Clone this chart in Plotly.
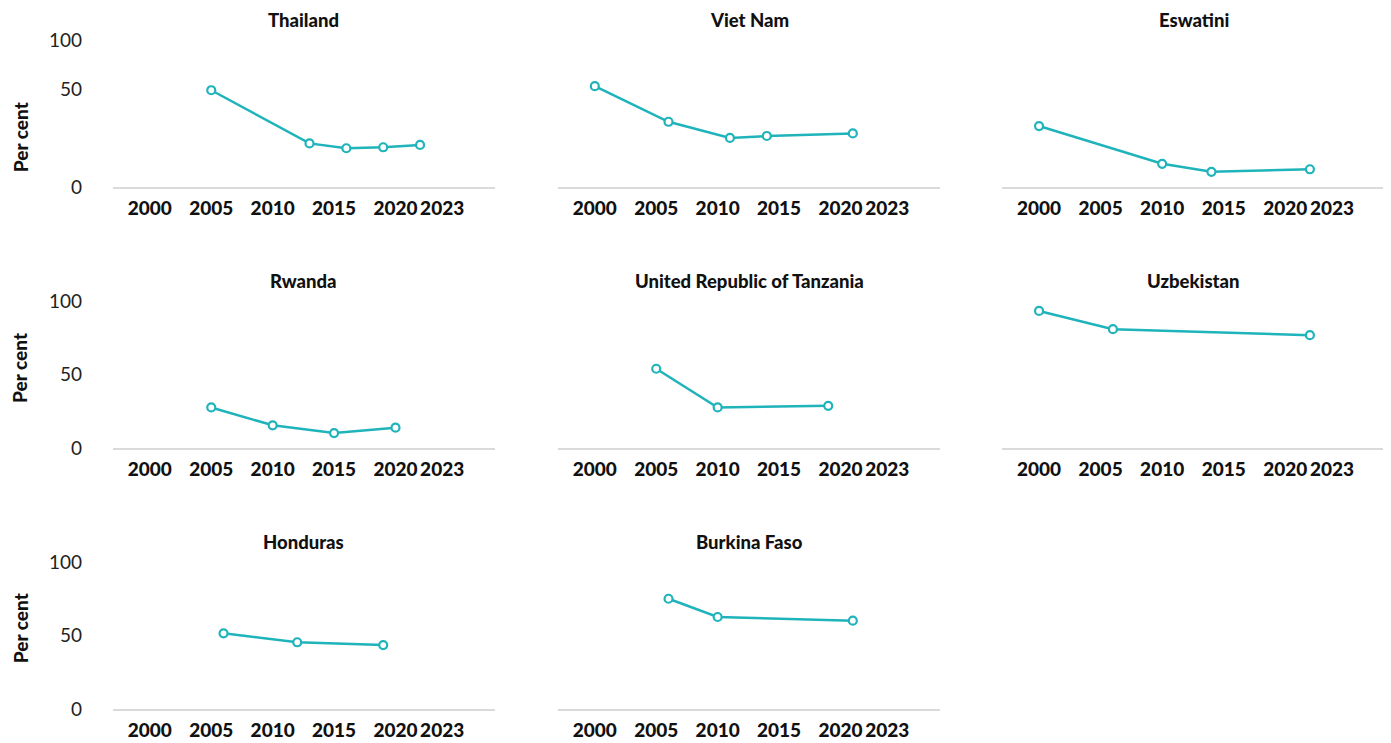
import plotly.graph_objects as go

# ---------------- data ----------------
countries = ["Thailand", "Viet Nam", "Eswatini", "Rwanda",
             "United Republic of Tanzania", "Uzbekistan", "Honduras", "Burkina Faso"]

thailand_years = [2005, 2013, 2016, 2019, 2022]
thailand_vals = [49.8, 22.5, 20.0, 20.5, 21.7]

vietnam_years = [2000, 2006, 2011, 2014, 2021]
vietnam_vals = [51.9, 33.6, 25.3, 26.3, 27.6]

eswatini_years = [2000, 2010, 2014, 2022]
eswatini_vals = [31.4, 12.0, 7.9, 9.2]

rwanda_years = [2005, 2010, 2015, 2020]
rwanda_vals = [27.6, 15.5, 10.2, 13.9]

tanzania_years = [2005, 2010, 2019]
tanzania_vals = [53.9, 27.6, 28.7]

uzbekistan_years = [2000, 2006, 2022]
uzbekistan_vals = [93.2, 80.8, 76.7]

honduras_years = [2006, 2012, 2019]
honduras_vals = [51.5, 45.4, 43.5]

burkina_years = [2006, 2010, 2021]
burkina_vals = [75.0, 62.6, 60.1]

x_tick_text = ["2000", "2005", "2010", "2015", "2020", "2023"]
x_tick_pos = [2000, 2005, 2010, 2015, 2020, 2023.8]
y_tick_text = ["0", "50", "100"]

series = [
    (thailand_years, thailand_vals),
    (vietnam_years, vietnam_vals),
    (eswatini_years, eswatini_vals),
    (rwanda_years, rwanda_vals),
    (tanzania_years, tanzania_vals),
    (uzbekistan_years, uzbekistan_vals),
    (honduras_years, honduras_vals),
    (burkina_years, burkina_vals),
]

# ---------------- styling ----------------
TEAL = "#1fb3bb"
FONT = "Lato"
x_domains = [[0.0, 0.3003], [0.3498, 0.6502], [0.699, 1.0]]
y_domains = [[0.780, 1.0], [0.390, 0.610], [0.0, 0.2197]]
row_ranges = [[0, 75.6], [0, 100], [0, 100]]
row_tickvals = [[0, 50, 75.6], [0, 50, 100], [0, 50, 100]]
ytitle_pos = [0.34, 0.545, 0.55]

fig = go.Figure()
annotations = []

for i, (name, (yrs, vals)) in enumerate(zip(countries, series)):
    r, c = divmod(i, 3)
    n = i + 1
    sfx = "" if n == 1 else str(n)
    fig.add_trace(go.Scatter(
        x=yrs, y=vals, mode="lines+markers",
        line=dict(color=TEAL, width=2.5),
        marker=dict(symbol="circle", size=8, color="white",
                    line=dict(color=TEAL, width=2.2)),
        xaxis="x" + sfx, yaxis="y" + sfx, showlegend=False,
        hoverinfo="x+y",
    ))
    fig.layout["xaxis" + sfx] = dict(
        domain=x_domains[c], anchor="y" + sfx, range=[1997, 2028.1],
        tickvals=x_tick_pos, ticktext=x_tick_text, ticks="",
        showline=True, linecolor="#dadada", linewidth=1.5,
        showgrid=False, zeroline=False, ticklabelstandoff=3,
        automargin=False,
        tickfont=dict(family=FONT, size=19, color="#111111", weight=900),
    )
    fig.layout["yaxis" + sfx] = dict(
        domain=y_domains[r], anchor="x" + sfx, range=row_ranges[r],
        tickvals=row_tickvals[r], ticktext=y_tick_text,
        showticklabels=(c == 0), ticks="", showline=False,
        showgrid=False, zeroline=False, ticklabelstandoff=30,
        automargin=False,
        tickfont=dict(family=FONT, size=19, color="#222222"),
    )
    annotations.append(dict(
        text=name, xref="x" + sfx + " domain", yref="y" + sfx + " domain",
        x=0.5, y=1, yshift=20, xanchor="center", yanchor="middle",
        showarrow=False,
        font=dict(family=FONT, size=18.5, color="#111111", weight=900),
    ))
    if c == 0:
        annotations.append(dict(
            text="Per cent", xref="paper", yref="y" + sfx + " domain",
            x=0, xshift=-93, y=ytitle_pos[r], xanchor="center", yanchor="middle",
            textangle=-90, showarrow=False,
            font=dict(family=FONT, size=19, color="#111111", weight=900),
        ))

fig.update_layout(
    width=1383, height=735,
    margin=dict(l=105, r=6, t=32, b=34, autoexpand=False),
    paper_bgcolor="white", plot_bgcolor="white",
    annotations=annotations,
)

fig.write_html("out.html")
